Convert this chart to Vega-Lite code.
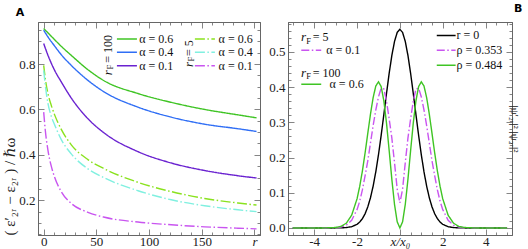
{
"$schema":"https://vega.github.io/schema/vega-lite/v6.json",
"padding":{"left":2,"top":2,"right":0,"bottom":0},
"spacing":7,
"config":{
 "font":"Liberation Serif, DejaVu Serif, serif",
 "view":{"stroke":"#666","strokeWidth":1},
 "axis":{"grid":false,"domainColor":"#666","domainWidth":1,"tickColor":"#666","tickWidth":0.8,"labelFont":"Liberation Serif, DejaVu Serif, serif","labelFontSize":13,"labelColor":"#222","titleFont":"Liberation Serif, DejaVu Serif, serif","titleFontWeight":"normal","titleColor":"#222","titleFontSize":15,"labelFlush":false,"labelOverlap":false},
 "title":{"font":"DejaVu Sans","fontSize":11,"fontWeight":"bold","color":"#000","offset":4},
 "text":{"font":"Liberation Serif, DejaVu Serif, serif","fontSize":12,"color":"#111"}
},
"resolve":{"scale":{"x":"independent","y":"independent","color":"independent","strokeDash":"independent"}},
"datasets":{
 "curves":[
  {"s":"F100a06","r":0,"v":0.956},{"s":"F100a06","r":4.1,"v":0.937},{"s":"F100a06","r":10.4,"v":0.907},{"s":"F100a06","r":16.7,"v":0.878},{"s":"F100a06","r":26.2,"v":0.838},{"s":"F100a06","r":42,"v":0.775},{"s":"F100a06","r":57.8,"v":0.725},{"s":"F100a06","r":89.5,"v":0.67},{"s":"F100a06","r":121.1,"v":0.631},{"s":"F100a06","r":152.7,"v":0.6},{"s":"F100a06","r":184.4,"v":0.576},{"s":"F100a06","r":202,"v":0.563},
  {"s":"F100a04","r":0,"v":0.949},{"s":"F100a04","r":4.1,"v":0.919},{"s":"F100a04","r":10.4,"v":0.879},{"s":"F100a04","r":16.7,"v":0.841},{"s":"F100a04","r":26.2,"v":0.794},{"s":"F100a04","r":42,"v":0.728},{"s":"F100a04","r":57.8,"v":0.676},{"s":"F100a04","r":89.5,"v":0.61},{"s":"F100a04","r":121.1,"v":0.566},{"s":"F100a04","r":152.7,"v":0.535},{"s":"F100a04","r":184.4,"v":0.515},{"s":"F100a04","r":202,"v":0.503},
  {"s":"F100a01","r":0,"v":0.89},{"s":"F100a01","r":4.1,"v":0.838},{"s":"F100a01","r":10.4,"v":0.772},{"s":"F100a01","r":16.7,"v":0.721},{"s":"F100a01","r":26.2,"v":0.65},{"s":"F100a01","r":42,"v":0.559},{"s":"F100a01","r":57.8,"v":0.495},{"s":"F100a01","r":89.5,"v":0.414},{"s":"F100a01","r":121.1,"v":0.364},{"s":"F100a01","r":152.7,"v":0.331},{"s":"F100a01","r":184.4,"v":0.308},{"s":"F100a01","r":202,"v":0.298},
  {"s":"F5a06","r":0,"v":0.794},{"s":"F5a06","r":1.55,"v":0.735},{"s":"F5a06","r":4.1,"v":0.669},{"s":"F5a06","r":7.2,"v":0.618},{"s":"F5a06","r":10.4,"v":0.576},{"s":"F5a06","r":16.7,"v":0.512},{"s":"F5a06","r":26.2,"v":0.444},{"s":"F5a06","r":42,"v":0.379},{"s":"F5a06","r":57.8,"v":0.338},{"s":"F5a06","r":89.5,"v":0.279},{"s":"F5a06","r":121.1,"v":0.238},{"s":"F5a06","r":152.7,"v":0.208},{"s":"F5a06","r":184.4,"v":0.188},{"s":"F5a06","r":202,"v":0.179},
  {"s":"F5a04","r":0,"v":0.772},{"s":"F5a04","r":1.55,"v":0.706},{"s":"F5a04","r":4.1,"v":0.625},{"s":"F5a04","r":7.2,"v":0.57},{"s":"F5a04","r":10.4,"v":0.532},{"s":"F5a04","r":16.7,"v":0.467},{"s":"F5a04","r":26.2,"v":0.404},{"s":"F5a04","r":42,"v":0.338},{"s":"F5a04","r":57.8,"v":0.298},{"s":"F5a04","r":89.5,"v":0.242},{"s":"F5a04","r":121.1,"v":0.202},{"s":"F5a04","r":152.7,"v":0.176},{"s":"F5a04","r":184.4,"v":0.158},{"s":"F5a04","r":202,"v":0.15},
  {"s":"F5a01","r":0,"v":0.588},{"s":"F5a01","r":1.55,"v":0.507},{"s":"F5a01","r":4.1,"v":0.419},{"s":"F5a01","r":7.2,"v":0.35},{"s":"F5a01","r":10.4,"v":0.301},{"s":"F5a01","r":16.7,"v":0.238},{"s":"F5a01","r":26.2,"v":0.186},{"s":"F5a01","r":42,"v":0.147},{"s":"F5a01","r":57.8,"v":0.125},{"s":"F5a01","r":89.5,"v":0.104},{"s":"F5a01","r":121.1,"v":0.092},{"s":"F5a01","r":152.7,"v":0.083},{"s":"F5a01","r":184.4,"v":0.077},{"s":"F5a01","r":202,"v":0.074}
 ],
 "wave":[
  {"s":"r0","x":-5,"v":0},{"s":"r0","x":-4,"v":0},{"s":"r0","x":-3.5,"v":0},{"s":"r0","x":-3,"v":0.0001},{"s":"r0","x":-2.75,"v":0.0003},{"s":"r0","x":-2.5,"v":0.0011},{"s":"r0","x":-2.25,"v":0.0036},{"s":"r0","x":-2,"v":0.0103},{"s":"r0","x":-1.875,"v":0.0168},{"s":"r0","x":-1.75,"v":0.0264},{"s":"r0","x":-1.625,"v":0.0402},{"s":"r0","x":-1.5,"v":0.0595},{"s":"r0","x":-1.375,"v":0.0852},{"s":"r0","x":-1.25,"v":0.1183},{"s":"r0","x":-1.125,"v":0.1592},{"s":"r0","x":-1,"v":0.2076},{"s":"r0","x":-0.875,"v":0.2624},{"s":"r0","x":-0.75,"v":0.3215},{"s":"r0","x":-0.625,"v":0.3817},{"s":"r0","x":-0.5,"v":0.4394},{"s":"r0","x":-0.375,"v":0.4902},{"s":"r0","x":-0.25,"v":0.53},{"s":"r0","x":-0.125,"v":0.5554},{"s":"r0","x":0,"v":0.5642},{"s":"r0","x":0.125,"v":0.5554},{"s":"r0","x":0.25,"v":0.53},{"s":"r0","x":0.375,"v":0.4902},{"s":"r0","x":0.5,"v":0.4394},{"s":"r0","x":0.625,"v":0.3817},{"s":"r0","x":0.75,"v":0.3215},{"s":"r0","x":0.875,"v":0.2624},{"s":"r0","x":1,"v":0.2076},{"s":"r0","x":1.125,"v":0.1592},{"s":"r0","x":1.25,"v":0.1183},{"s":"r0","x":1.375,"v":0.0852},{"s":"r0","x":1.5,"v":0.0595},{"s":"r0","x":1.625,"v":0.0402},{"s":"r0","x":1.75,"v":0.0264},{"s":"r0","x":1.875,"v":0.0168},{"s":"r0","x":2,"v":0.0103},{"s":"r0","x":2.25,"v":0.0036},{"s":"r0","x":2.5,"v":0.0011},{"s":"r0","x":2.75,"v":0.0003},{"s":"r0","x":3,"v":0.0001},{"s":"r0","x":3.5,"v":0},{"s":"r0","x":4,"v":0},{"s":"r0","x":5,"v":0},
  {"s":"p353","x":-5,"v":0},{"s":"p353","x":-4,"v":0},{"s":"p353","x":-3.5,"v":0},{"s":"p353","x":-3,"v":0.0007},{"s":"p353","x":-2.75,"v":0.0025},{"s":"p353","x":-2.5,"v":0.008},{"s":"p353","x":-2.25,"v":0.022},{"s":"p353","x":-2,"v":0.052},{"s":"p353","x":-1.875,"v":0.076},{"s":"p353","x":-1.75,"v":0.108},{"s":"p353","x":-1.625,"v":0.148},{"s":"p353","x":-1.5,"v":0.19},{"s":"p353","x":-1.375,"v":0.24},{"s":"p353","x":-1.25,"v":0.29},{"s":"p353","x":-1.125,"v":0.335},{"s":"p353","x":-1,"v":0.372},{"s":"p353","x":-0.875,"v":0.397},{"s":"p353","x":-0.75,"v":0.395},{"s":"p353","x":-0.625,"v":0.36},{"s":"p353","x":-0.5,"v":0.31},{"s":"p353","x":-0.375,"v":0.255},{"s":"p353","x":-0.25,"v":0.185},{"s":"p353","x":-0.125,"v":0.11},{"s":"p353","x":0,"v":0.071},{"s":"p353","x":0.125,"v":0.11},{"s":"p353","x":0.25,"v":0.185},{"s":"p353","x":0.375,"v":0.255},{"s":"p353","x":0.5,"v":0.31},{"s":"p353","x":0.625,"v":0.36},{"s":"p353","x":0.75,"v":0.395},{"s":"p353","x":0.875,"v":0.397},{"s":"p353","x":1,"v":0.372},{"s":"p353","x":1.125,"v":0.335},{"s":"p353","x":1.25,"v":0.29},{"s":"p353","x":1.375,"v":0.24},{"s":"p353","x":1.5,"v":0.19},{"s":"p353","x":1.625,"v":0.148},{"s":"p353","x":1.75,"v":0.108},{"s":"p353","x":1.875,"v":0.076},{"s":"p353","x":2,"v":0.052},{"s":"p353","x":2.25,"v":0.022},{"s":"p353","x":2.5,"v":0.008},{"s":"p353","x":2.75,"v":0.0025},{"s":"p353","x":3,"v":0.0007},{"s":"p353","x":3.5,"v":0},{"s":"p353","x":4,"v":0},{"s":"p353","x":5,"v":0},
  {"s":"p484","x":-5,"v":0},{"s":"p484","x":-4,"v":0},{"s":"p484","x":-3.5,"v":0.0001},{"s":"p484","x":-3,"v":0.0013},{"s":"p484","x":-2.75,"v":0.0044},{"s":"p484","x":-2.5,"v":0.0136},{"s":"p484","x":-2.25,"v":0.0362},{"s":"p484","x":-2,"v":0.0826},{"s":"p484","x":-1.875,"v":0.1179},{"s":"p484","x":-1.75,"v":0.1617},{"s":"p484","x":-1.625,"v":0.2124},{"s":"p484","x":-1.5,"v":0.2678},{"s":"p484","x":-1.375,"v":0.3222},{"s":"p484","x":-1.25,"v":0.3697},{"s":"p484","x":-1.125,"v":0.403},{"s":"p484","x":-1,"v":0.4151},{"s":"p484","x":-0.875,"v":0.4018},{"s":"p484","x":-0.75,"v":0.3617},{"s":"p484","x":-0.625,"v":0.2982},{"s":"p484","x":-0.5,"v":0.2197},{"s":"p484","x":-0.375,"v":0.1379},{"s":"p484","x":-0.25,"v":0.0663},{"s":"p484","x":-0.125,"v":0.0174},{"s":"p484","x":0,"v":0},{"s":"p484","x":0.125,"v":0.0174},{"s":"p484","x":0.25,"v":0.0663},{"s":"p484","x":0.375,"v":0.1379},{"s":"p484","x":0.5,"v":0.2197},{"s":"p484","x":0.625,"v":0.2982},{"s":"p484","x":0.75,"v":0.3617},{"s":"p484","x":0.875,"v":0.4018},{"s":"p484","x":1,"v":0.4151},{"s":"p484","x":1.125,"v":0.403},{"s":"p484","x":1.25,"v":0.3697},{"s":"p484","x":1.375,"v":0.3222},{"s":"p484","x":1.5,"v":0.2678},{"s":"p484","x":1.625,"v":0.2124},{"s":"p484","x":1.75,"v":0.1617},{"s":"p484","x":1.875,"v":0.1179},{"s":"p484","x":2,"v":0.0826},{"s":"p484","x":2.25,"v":0.0362},{"s":"p484","x":2.5,"v":0.0136},{"s":"p484","x":2.75,"v":0.0044},{"s":"p484","x":3,"v":0.0013},{"s":"p484","x":3.5,"v":0.0001},{"s":"p484","x":4,"v":0},{"s":"p484","x":5,"v":0}
 ]
},
"hconcat":[
 {
  "width":222,"height":213,
  "title":{"text":"A","anchor":"start","frame":"bounds","dx":13},
  "data":{"values":[{}]},
  "layer":[
   {"data":{"name":"curves"},"mark":{"type":"line","strokeWidth":1.4,"interpolate":"monotone"},
    "encoding":{
     "x":{"field":"r","type":"quantitative","scale":{"domain":[-5.4,205.3],"nice":false,"zero":false},
      "axis":{"orient":"bottom","title":null,"values":[0,10,20,30,40,50,60,70,80,90,100,110,120,130,140,150,160,170,180,190,200],
       "labelExpr":"datum.value==200?'r':(datum.value%50==0?datum.label:'')",
       "labelFontStyle":{"condition":{"test":"datum.value==200","value":"italic"},"value":"normal"},
       "tickSize":{"condition":{"test":"datum.value%50==0","value":-6},"value":-3},"labelPadding":6}},
     "y":{"field":"v","type":"quantitative","scale":{"domain":[0.047,0.985],"nice":false,"zero":false},
      "axis":{"orient":"left","title":"( ε′₂ᵣ  −  ε₂ᵣ ) / ℏω","titleAnchor":"start","titlePadding":1,
       "values":[0.05,0.1,0.15,0.2,0.25,0.3,0.35,0.4,0.45,0.5,0.55,0.6,0.65,0.7,0.75,0.8,0.85,0.9,0.95],
       "labelExpr":"abs(datum.value*5-round(datum.value*5))<0.001?format(datum.value,'.1f'):''",
       "tickSize":{"condition":{"test":"abs(datum.value*5-round(datum.value*5))<0.001","value":-6},"value":-3},"labelPadding":9}},
     "color":{"field":"s","type":"nominal","scale":{"domain":["F100a06","F100a04","F100a01","F5a06","F5a04","F5a01"],"range":["#3fc424","#2f6ef5","#6a22d0","#8ae21e","#80f0e0","#c955f0"]},"legend":null},
     "strokeDash":{"field":"s","type":"nominal","scale":{"domain":["F100a06","F100a04","F100a01","F5a06","F5a04","F5a01"],"range":[[1,0],[1,0],[1,0],[10,2.5,1.5,2.5],[10,2.5,1.5,2.5],[10,2.5,1.5,2.5]]},"legend":null}
    }},
   {"data":{"name":"curves"},"mark":{"type":"point","opacity":0},
    "encoding":{
     "x":{"field":"r","type":"quantitative","axis":{"orient":"top","title":null,"labels":false,"values":[0,10,20,30,40,50,60,70,80,90,100,110,120,130,140,150,160,170,180,190,200],"tickSize":{"condition":{"test":"datum.value%50==0","value":-6},"value":-3}}},
     "y":{"field":"v","type":"quantitative","axis":{"orient":"right","title":null,"labels":false,"values":[0.05,0.1,0.15,0.2,0.25,0.3,0.35,0.4,0.45,0.5,0.55,0.6,0.65,0.7,0.75,0.8,0.85,0.9,0.95],"tickSize":{"condition":{"test":"abs(datum.value*5-round(datum.value*5))<0.001","value":-6},"value":-3}}}
    }},
   {"mark":{"type":"rule","strokeWidth":1.5},"encoding":{"x":{"datum":69.5,"axis":null},"x2":{"datum":88.5},"y":{"datum":0.91,"axis":null},"color":{"datum":"F100a06"},"strokeDash":{"datum":"F100a06"}}},
   {"mark":{"type":"rule","strokeWidth":1.5},"encoding":{"x":{"datum":69.5,"axis":null},"x2":{"datum":88.5},"y":{"datum":0.852,"axis":null},"color":{"datum":"F100a04"},"strokeDash":{"datum":"F100a04"}}},
   {"mark":{"type":"rule","strokeWidth":1.5},"encoding":{"x":{"datum":69.5,"axis":null},"x2":{"datum":88.5},"y":{"datum":0.7925,"axis":null},"color":{"datum":"F100a01"},"strokeDash":{"datum":"F100a01"}}},
   {"mark":{"type":"rule","strokeWidth":1.5},"encoding":{"x":{"datum":143.5,"axis":null},"x2":{"datum":162.5},"y":{"datum":0.91,"axis":null},"color":{"datum":"F5a06"},"strokeDash":{"datum":"F5a06"}}},
   {"mark":{"type":"rule","strokeWidth":1.5},"encoding":{"x":{"datum":143.5,"axis":null},"x2":{"datum":162.5},"y":{"datum":0.852,"axis":null},"color":{"datum":"F5a04"},"strokeDash":{"datum":"F5a04"}}},
   {"mark":{"type":"rule","strokeWidth":1.5},"encoding":{"x":{"datum":143.5,"axis":null},"x2":{"datum":162.5},"y":{"datum":0.7925,"axis":null},"color":{"datum":"F5a01"},"strokeDash":{"datum":"F5a01"}}},
   {"mark":{"type":"text","align":"left","baseline":"middle"},"encoding":{"x":{"datum":90.7,"axis":null},"y":{"datum":0.91,"axis":null},"text":{"value":"α = 0.6"}}},
   {"mark":{"type":"text","align":"left","baseline":"middle"},"encoding":{"x":{"datum":90.7,"axis":null},"y":{"datum":0.852,"axis":null},"text":{"value":"α = 0.4"}}},
   {"mark":{"type":"text","align":"left","baseline":"middle"},"encoding":{"x":{"datum":90.7,"axis":null},"y":{"datum":0.7925,"axis":null},"text":{"value":"α = 0.1"}}},
   {"mark":{"type":"text","align":"left","baseline":"middle"},"encoding":{"x":{"datum":166,"axis":null},"y":{"datum":0.91,"axis":null},"text":{"value":"α = 0.6"}}},
   {"mark":{"type":"text","align":"left","baseline":"middle"},"encoding":{"x":{"datum":166,"axis":null},"y":{"datum":0.852,"axis":null},"text":{"value":"α = 0.4"}}},
   {"mark":{"type":"text","align":"left","baseline":"middle"},"encoding":{"x":{"datum":166,"axis":null},"y":{"datum":0.7925,"axis":null},"text":{"value":"α = 0.1"}}},
   {"mark":{"type":"text","align":"left","baseline":"middle","angle":270,"fontStyle":"italic","fontSize":13},"encoding":{"x":{"datum":61.5,"axis":null},"y":{"datum":0.751,"axis":null},"text":{"value":"r"}}},
   {"mark":{"type":"text","align":"left","baseline":"middle","angle":270,"fontSize":8.5},"encoding":{"x":{"datum":63.4,"axis":null},"y":{"datum":0.776,"axis":null},"text":{"value":"F"}}},
   {"mark":{"type":"text","align":"left","baseline":"middle","angle":270},"encoding":{"x":{"datum":61.5,"axis":null},"y":{"datum":0.806,"axis":null},"text":{"value":"= 100"}}},
   {"mark":{"type":"text","align":"left","baseline":"middle","angle":270,"fontStyle":"italic","fontSize":13},"encoding":{"x":{"datum":137.6,"axis":null},"y":{"datum":0.787,"axis":null},"text":{"value":"r"}}},
   {"mark":{"type":"text","align":"left","baseline":"middle","angle":270,"fontSize":8.5},"encoding":{"x":{"datum":139.5,"axis":null},"y":{"datum":0.811,"axis":null},"text":{"value":"F"}}},
   {"mark":{"type":"text","align":"left","baseline":"middle","angle":270},"encoding":{"x":{"datum":137.6,"axis":null},"y":{"datum":0.835,"axis":null},"text":{"value":"= 5"}}}
  ],
  "resolve":{"axis":{"x":"independent","y":"independent"}}
 },
 {
  "width":224,"height":213,
  "title":{"text":"B","anchor":"end","frame":"bounds","dx":3},
  "data":{"values":[{}]},
  "layer":[
   {"data":{"name":"wave"},"mark":{"type":"line","strokeWidth":1.4},
    "encoding":{
     "x":{"field":"x","type":"quantitative","scale":{"domain":[-5.22,5.23],"nice":false,"zero":false},
      "axis":{"orient":"bottom","title":null,"values":[-5,-4.5,-4,-3.5,-3,-2.5,-2,-1.5,-1,-0.5,0,0.5,1,1.5,2,2.5,3,3.5,4,4.5,5],
       "labelExpr":"datum.value==0?'x/x₀':(datum.value%2==0 && abs(datum.value)<5?replace(format(datum.value,'d'),'−','-'):'')",
       "labelFontStyle":{"condition":{"test":"datum.value==0","value":"italic"},"value":"normal"},
       "tickSize":{"condition":{"test":"datum.value%2==0","value":-6},"value":-3},"labelPadding":6}},
     "y":{"field":"v","type":"quantitative","scale":{"domain":[-0.02,0.585],"nice":false,"zero":false},
      "axis":{"orient":"left","title":null,
       "values":[0,0.02,0.04,0.06,0.08,0.1,0.12,0.14,0.16,0.18,0.2,0.22,0.24,0.26,0.28,0.3,0.32,0.34,0.36,0.38,0.4,0.42,0.44,0.46,0.48,0.5,0.52,0.54,0.56,0.58],
       "labelExpr":"abs(datum.value*10-round(datum.value*10))<0.001?format(datum.value,'.1f'):''",
       "tickSize":{"condition":{"test":"abs(datum.value*10-round(datum.value*10))<0.001","value":-6},"value":-3},"labelPadding":9}},
     "color":{"field":"s","type":"nominal","scale":{"domain":["r0","p353","p484"],"range":["#000000","#c955f0","#3fc424"]},"legend":null},
     "strokeDash":{"field":"s","type":"nominal","scale":{"domain":["r0","p353","p484"],"range":[[1,0],[8,2.5,1.5,2.5],[1,0]]},"legend":null}
    }},
   {"data":{"name":"wave"},"mark":{"type":"point","opacity":0},
    "encoding":{
     "x":{"field":"x","type":"quantitative","axis":{"orient":"top","title":null,"labels":false,"values":[-5,-4.5,-4,-3.5,-3,-2.5,-2,-1.5,-1,-0.5,0,0.5,1,1.5,2,2.5,3,3.5,4,4.5,5],"tickSize":{"condition":{"test":"datum.value%2==0","value":-6},"value":-3}}},
     "y":{"field":"v","type":"quantitative","axis":{"orient":"right","title":"|ψ′₂ᵣ|²            |ψ₂ᵣ|²","titleFontSize":11,"titlePadding":-4,"labels":false,
       "values":[0,0.02,0.04,0.06,0.08,0.1,0.12,0.14,0.16,0.18,0.2,0.22,0.24,0.26,0.28,0.3,0.32,0.34,0.36,0.38,0.4,0.42,0.44,0.46,0.48,0.5,0.52,0.54,0.56,0.58],
       "tickSize":{"condition":{"test":"abs(datum.value*10-round(datum.value*10))<0.001","value":-6},"value":-3}}}
    }},
   {"mark":{"type":"rule","strokeWidth":1.5},"encoding":{"x":{"datum":-4.6,"axis":null},"x2":{"datum":-3.67},"y":{"datum":0.505,"axis":null},"color":{"datum":"p353"},"strokeDash":{"datum":"p353"}}},
   {"mark":{"type":"rule","strokeWidth":1.5},"encoding":{"x":{"datum":-4.6,"axis":null},"x2":{"datum":-3.67},"y":{"datum":0.408,"axis":null},"color":{"datum":"p484"},"strokeDash":{"datum":"p484"}}},
   {"mark":{"type":"rule","strokeWidth":1.5},"encoding":{"x":{"datum":1.72,"axis":null},"x2":{"datum":2.6},"y":{"datum":0.547,"axis":null},"color":{"datum":"r0"},"strokeDash":{"datum":"r0"}}},
   {"mark":{"type":"rule","strokeWidth":1.5},"encoding":{"x":{"datum":1.72,"axis":null},"x2":{"datum":2.6},"y":{"datum":0.505,"axis":null},"color":{"datum":"p353"},"strokeDash":{"datum":"p353"}}},
   {"mark":{"type":"rule","strokeWidth":1.5},"encoding":{"x":{"datum":1.72,"axis":null},"x2":{"datum":2.6},"y":{"datum":0.462,"axis":null},"color":{"datum":"p484"},"strokeDash":{"datum":"p484"}}},
   {"mark":{"type":"text","align":"left","baseline":"middle"},"encoding":{"x":{"datum":-3.44,"axis":null},"y":{"datum":0.505,"axis":null},"text":{"value":"α = 0.1"}}},
   {"mark":{"type":"text","align":"left","baseline":"middle"},"encoding":{"x":{"datum":-3.28,"axis":null},"y":{"datum":0.408,"axis":null},"text":{"value":"α = 0.6"}}},
   {"mark":{"type":"text","align":"left","baseline":"middle"},"encoding":{"x":{"datum":2.64,"axis":null},"y":{"datum":0.547,"axis":null},"text":{"value":"r = 0"}}},
   {"mark":{"type":"text","align":"left","baseline":"middle"},"encoding":{"x":{"datum":2.64,"axis":null},"y":{"datum":0.505,"axis":null},"text":{"value":"ρ = 0.353"}}},
   {"mark":{"type":"text","align":"left","baseline":"middle"},"encoding":{"x":{"datum":2.64,"axis":null},"y":{"datum":0.462,"axis":null},"text":{"value":"ρ = 0.484"}}},
   {"mark":{"type":"text","align":"left","baseline":"middle","fontStyle":"italic","fontSize":13},"encoding":{"x":{"datum":-4.61,"axis":null},"y":{"datum":0.541,"axis":null},"text":{"value":"r"}}},
   {"mark":{"type":"text","align":"left","baseline":"middle","fontSize":8.5},"encoding":{"x":{"datum":-4.37,"axis":null},"y":{"datum":0.532,"axis":null},"text":{"value":"F"}}},
   {"mark":{"type":"text","align":"left","baseline":"middle"},"encoding":{"x":{"datum":-4.07,"axis":null},"y":{"datum":0.541,"axis":null},"text":{"value":"= 5"}}},
   {"mark":{"type":"text","align":"left","baseline":"middle","fontStyle":"italic","fontSize":13},"encoding":{"x":{"datum":-4.61,"axis":null},"y":{"datum":0.44,"axis":null},"text":{"value":"r"}}},
   {"mark":{"type":"text","align":"left","baseline":"middle","fontSize":8.5},"encoding":{"x":{"datum":-4.37,"axis":null},"y":{"datum":0.431,"axis":null},"text":{"value":"F"}}},
   {"mark":{"type":"text","align":"left","baseline":"middle"},"encoding":{"x":{"datum":-4.07,"axis":null},"y":{"datum":0.44,"axis":null},"text":{"value":"= 100"}}}
  ],
  "resolve":{"axis":{"x":"independent","y":"independent"}}
 }
]
}
